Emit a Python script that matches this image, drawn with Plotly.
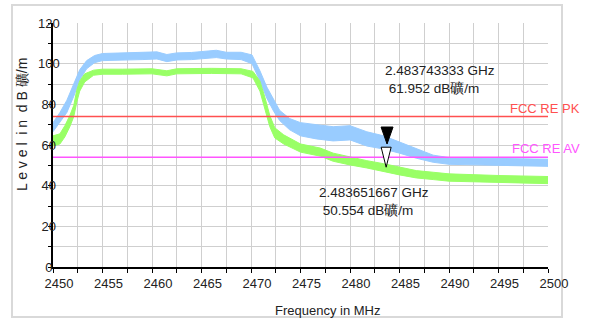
import plotly.graph_objects as go

# ---- data ----
blue_freq = [2450, 2450.7, 2451.4, 2452.1, 2452.7, 2453.4, 2454.2, 2455, 2457, 2459, 2460.5,
             2461.5, 2462.5, 2464, 2466.5, 2467.5, 2469, 2470.1, 2470.9, 2471.6, 2472.3,
             2472.9, 2473.9, 2475, 2476.6, 2478.3, 2480, 2481.7, 2483.4, 2485, 2486.7,
             2488.4, 2490, 2495, 2500]
blue_low = [66.5, 71, 76, 84, 92, 97.5, 100.5, 101.5, 101.8, 102, 102.3,
            101, 101.8, 102, 103, 102.3, 102, 100, 91.5, 83, 76.5,
            72, 67.5, 64.5, 63, 62, 62.5, 59.5, 58, 56, 53.5,
            51.5, 50.5, 50, 49.5]
blue_high = [71, 76, 82, 90, 97, 101.5, 104, 105, 105.3, 105.5, 105.8,
             104.5, 105.3, 105.5, 106.6, 105.6, 105.6, 104.3, 96.5, 88.5, 82,
             77, 73, 71, 70, 69, 69.5, 66.5, 64.5, 61.5, 58,
             55, 53.8, 53.3, 53]

green_freq = [2450, 2450.7, 2451.2, 2451.7, 2452.1, 2452.4, 2452.7, 2453.2, 2454.1, 2455, 2457,
              2460, 2461.5, 2462.5, 2466, 2469, 2470.2, 2470.9, 2471.4, 2471.9, 2472.4,
              2473.3, 2475, 2477, 2478.3, 2480, 2481.7, 2483.4, 2485, 2486.7, 2488.4,
              2490, 2495, 2500]
green_low = [59.5, 60.5, 64, 69, 74, 81, 86.5, 91, 94.3, 94.8, 94.8,
             95, 94, 95, 95.2, 95, 93, 86.5, 78, 69, 63.5,
             60.5, 56.5, 54.5, 52, 50.2, 48.7, 47, 45.3, 43.8, 43,
             42.2, 41.5, 41]
green_high = [64.5, 65.5, 69.5, 74.5, 79.5, 87, 91.5, 95, 96.8, 97.3, 97.3,
              97.5, 96.5, 97.5, 97.7, 97.5, 96.2, 91.5, 83.5, 74.5, 68.5,
              65, 60.5, 58.5, 56, 54, 52.3, 50.8, 49, 47.4, 46.6,
              45.8, 45, 44.5]

limit_names = ["FCC RE PK", "FCC RE AV"]
limit_values = [74, 54]

marker_freq_ghz = [2.483743333, 2.483651667]
marker_level = [61.952, 50.554]
unit = "dB礦/m"

x_ticks = [2450, 2455, 2460, 2465, 2470, 2475, 2480, 2485, 2490, 2495, 2500]
y_ticks = [0, 20, 40, 60, 80, 100, 120]

BLUE = "#99ccff"
GREEN = "#99ff66"
RED = "#ff5050"
MAGENTA = "#ff55ff"
GRID = "#cfcfcf"
FONT = "Liberation Sans, Arial, sans-serif"

fig = go.Figure()

def band(freq, lo, hi, color):
    fig.add_trace(go.Scatter(
        x=list(freq) + list(reversed(freq)),
        y=list(hi) + list(reversed(lo)),
        fill="toself", fillcolor=color, mode="lines",
        line=dict(color=color, width=1), hoverinfo="skip", showlegend=False))

band(blue_freq, blue_low, blue_high, BLUE)
band(green_freq, green_low, green_high, GREEN)

for name, val, col in zip(limit_names, limit_values, [RED, MAGENTA]):
    fig.add_trace(go.Scatter(x=[x_ticks[0], x_ticks[-1]], y=[val, val], mode="lines",
                             line=dict(color=col, width=1.5), showlegend=False))
    fig.add_annotation(x=1.0687, xref="paper", y=val, yref="y", text=name,
                       xanchor="right", yanchor="bottom", showarrow=False,
                       font=dict(family=FONT, size=13, color=col), yshift=-1)

# marker triangles (pixel-sized, anchored at marker data points)
mk_x = [g * 1000 for g in marker_freq_ghz]
fig.add_shape(type="path", xref="x", yref="y", xsizemode="pixel", ysizemode="pixel",
              xanchor=mk_x[0], yanchor=marker_level[0],
              path="M -6 14 L 6 14 L 0 -3 Z", fillcolor="black", line=dict(color="black", width=1))
fig.add_shape(type="path", xref="x", yref="y", xsizemode="pixel", ysizemode="pixel",
              xanchor=mk_x[1], yanchor=marker_level[1],
              path="M -5 17 L 5 17 L 0 -3 Z", fillcolor="white", line=dict(color="black", width=1))

fig.add_annotation(x=mk_x[0], y=marker_level[0], xref="x", yref="y", xanchor="left", yanchor="top",
                   xshift=-4, yshift=80, align="left", showarrow=False,
                   text=f"{marker_freq_ghz[0]:.9f} GHz<br>\u00a0{marker_level[0]:.3f} {unit}",
                   font=dict(family=FONT, size=13.5, color="#222222"))
fig.add_annotation(x=mk_x[1], y=marker_level[1], xref="x", yref="y", xanchor="left", yanchor="top",
                   xshift=-69, yshift=-19, align="left", showarrow=False,
                   text=f"{marker_freq_ghz[1]:.9f} GHz<br>\u00a0{marker_level[1]:.3f} {unit}",
                   font=dict(family=FONT, size=13.5, color="#222222"))

# axis titles
fig.add_annotation(x=(327 - 53) / 495, xref="paper", y=(267 - 310) / 244, yref="paper",
                   text="Frequency in MHz", showarrow=False, xanchor="center", yanchor="middle",
                   font=dict(family=FONT, size=13, color="#222222"))
fig.add_annotation(x=(22 - 53) / 495, xref="paper", y=(267 - 125) / 244, yref="paper",
                   text="L e v e l \u00a0i n \u00a0d B 礦/m", textangle=-90, showarrow=False,
                   xanchor="center", yanchor="middle",
                   font=dict(family=FONT, size=14, color="#222222"))

# outer frame
fig.add_shape(type="rect", xref="paper", yref="paper",
              x0=(12 - 53) / 495, x1=(562 - 53) / 495, y0=(267 - 317) / 244, y1=(267 - 5) / 244,
              line=dict(color="#d9d9d9", width=2), layer="below")

def pad(v):
    s = str(v)
    return s + "\u00a0" * (3 - len(s))

fig.update_layout(
    width=599, height=320, margin=dict(l=53, r=51, t=23, b=53),
    paper_bgcolor="white", plot_bgcolor="white", showlegend=False,
    font=dict(family=FONT, size=13, color="#222222"),
    xaxis=dict(range=[2450, 2500], tickvals=x_ticks, ticktext=[str(v) for v in x_ticks],
               showline=True, linecolor="black", linewidth=1.5, ticks="outside", ticklen=4,
               tickcolor="black", showgrid=True, gridcolor=GRID, gridwidth=1.2,
               zeroline=False, ticklabelshift=6,
               minor=dict(dtick=2.5, tick0=2450, showgrid=True, gridcolor=GRID, gridwidth=1.2,
                          ticks="outside", ticklen=4, tickcolor="black")),
    yaxis=dict(range=[0, 120], tickvals=y_ticks, ticktext=[pad(v) for v in y_ticks],
               showline=True, linecolor="black", linewidth=1.5, ticks="outside", ticklen=3,
               tickcolor="black", showgrid=True, gridcolor=GRID, gridwidth=1.2,
               zeroline=False, ticklabelstandoff=-14,
               minor=dict(dtick=10, tick0=0, showgrid=True, gridcolor=GRID, gridwidth=1.2,
                          ticks="outside", ticklen=3, tickcolor="black")),
)

fig.write_html("out.html", config={"displayModeBar": False},
               post_script="document.body.style.margin='0';")
